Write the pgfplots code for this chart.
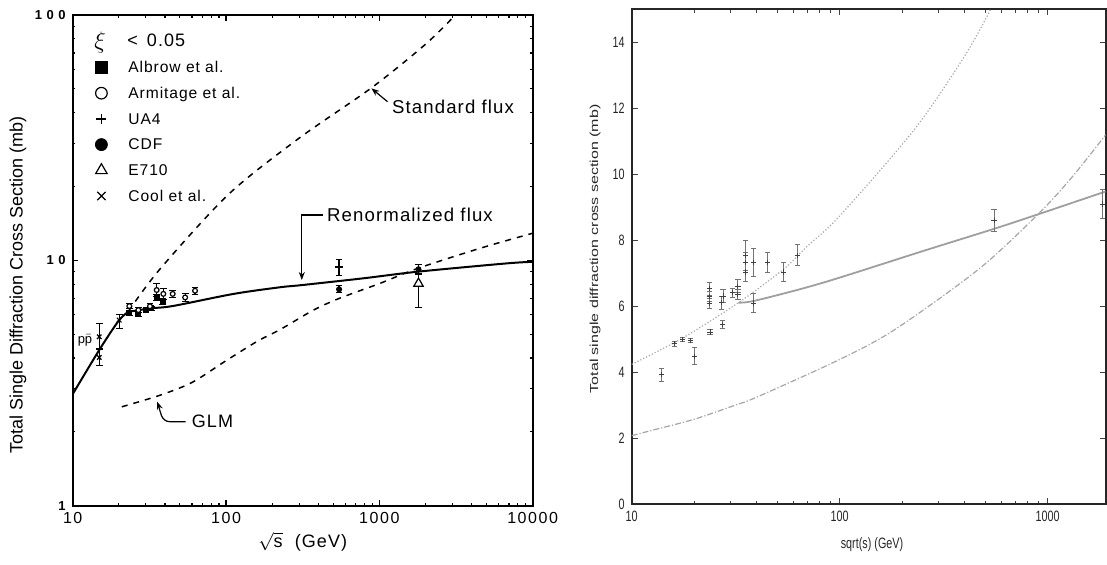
\documentclass[border=0pt]{standalone}
\usepackage{fontspec}
\setmainfont{Liberation Sans}
\newfontfamily\lsp[LetterSpace=6]{Liberation Sans}
\newfontfamily\tsp[LetterSpace=10]{Liberation Sans}
\newfontfamily\bsp[LetterSpace=35]{Liberation Sans}
\newfontfamily\nar[FakeStretch=0.72]{Liberation Sans}
\usepackage{graphicx}
\usepackage{pgfplots}
\pgfplotsset{compat=1.18}
\usepackage{pgfplotstable}
\usetikzlibrary{arrows.meta}

% left panel data
\pgfplotstableread{
x y e
23.4 6.08 0.12
26.8 6.03 0.12
30.1 6.31 0.12
32.5 6.38 0.12
35.3 7.05 0.2
38.6 6.80 0.2
}\albrow
\pgfplotstableread{
x y e
23.4 6.51 0.15
26.8 6.27 0.15
31.9 6.50 0.15
35.3 7.57 0.45
39.0 7.30 0.40
44.9 7.30 0.25
54.1 7.06 0.25
62.8 7.52 0.25
}\armitage
\pgfplotstableread{
x y e
546 9.40 0.70
}\uafour
\pgfplotstableread{
x y e
546 7.62 0.25
1800 9.20 0.45
}\cdf
\pgfplotstableread{
x y ep em
1800 8.05 0.80 1.64
}\esevten
\pgfplotstableread{
x y ep em
14.9 4.88 0.65 0.50
14.9 4.02 0.30 0.28
20.1 5.71 0.32 0.43
}\cool
% curves, left panel
\pgfplotstableread{
x y
10 2.85
15.1 4.37
20.1 5.71
23.1 6.17
}\renlow
\pgfplotstableread{
x y
23.1 6.17
31.9 6.37
45.3 6.52
112 7.30
225 7.77
312 7.93
787 8.45
1778 8.99
6770 9.72
10000 9.86
}\renhigh
\pgfplotstableread{
x y
23.1 6.2
37 9.2
104 18.6
300 31.5
889 50.5
2000 76
3130 100
}\stdflux
\pgfplotstableread{
x y
20.9 2.53
37.1 2.82
60 3.18
100 3.90
160 4.68
225 5.22
372 6.27
548 7.00
1010 8.06
1778 9.27
4540 11.2
10000 12.9
}\glm
% right panel data
\pgfplotstableread{
x y e
13.9 3.93 0.20
16.1 4.87 0.08
17.6 4.99 0.07
19.1 4.97 0.07
20.1 4.49 0.26
23.6 6.53 0.20
23.6 6.29 0.15
23.6 6.09 0.15
23.8 5.22 0.07
27.1 6.11 0.20
27.5 6.31 0.20
27.3 5.45 0.12
30.5 6.41 0.14
32.4 6.61 0.20
32.4 6.36 0.15
35.3 7.55 0.45
35.3 7.33 0.30
35.3 7.04 0.30
38.5 7.33 0.42
38.5 6.10 0.30
45.1 7.33 0.29
53.9 7.04 0.30
62.5 7.55 0.32
552 8.59 0.33
1837 9.10 0.43
}\rdata
\pgfplotstableread{
x y
10 4.24
17.7 5.05
32.6 6.11
53.6 7.12
69.3 7.80
100 8.74
230 11.38
400 13.6
532 15.0
}\rcurvea
\pgfplotstableread{
x y
32.6 6.11
38.5 6.16
64.6 6.52
100 6.87
250 7.67
547 8.34
901 8.79
1900 9.48
}\rcurveb
\pgfplotstableread{
x y
10 2.08
12.3 2.23
19.8 2.57
31.3 3.00
40 3.25
100 4.39
184.5 5.30
471 7.15
918 8.85
1327 9.96
1900 11.2
}\rcurvec

\begin{document}
\begin{tikzpicture}
\path[use as bounding box] (0,0) rectangle (553.5pt,282pt);

\begin{axis}[
  at={(36.35pt,29.15pt)}, anchor=south west,
  scale only axis, width=230pt, height=245.35pt,
  xmode=log, ymode=log,
  xmin=10, xmax=10000, ymin=1, ymax=100,
  axis line style={line width=0.9pt},
  tick style={line width=0.6pt, black},
  major tick length=2.8pt, minor tick length=1.4pt,
  xtick={10,100,1000,10000}, xticklabels={10,100,1000,10000},
  ytick={1,10,100}, yticklabels={1,10,100},
  x tick label style={font=\tsp\fontsize{8}{9}\selectfont},
  y tick label style={font=\bsp\bfseries\fontsize{6.5}{7}\selectfont},
  xlabel={$\sqrt{\mbox{s}}$ \ (GeV)},
  xlabel style={font=\lsp\fontsize{9}{11}\selectfont, at={(axis description cs:0.5,-0.074)}, anchor=center},
  ylabel={Total Single Diffraction Cross Section (mb)},
  ylabel style={font=\fontsize{9}{11}\selectfont, at={(axis description cs:-0.119,0.45)}, anchor=center},
  legend style={draw=none, fill=none, at={(axis description cs:0.0485,0.92)}, anchor=north west,
    inner sep=0pt, row sep=0pt, font=\lsp\fontsize{7.8}{9}\selectfont,
    nodes={inner sep=0pt, text height=9pt, text depth=3.85pt},
    /tikz/every odd column/.append style={column sep=10.5pt}},
  legend cell align=left,
  error bars/error bar style={line width=0.6pt, black},
  error bars/error mark options={rotate=90, line width=0.6pt, black, mark size=1.7pt},
]
% theory curves
\addplot[black, line width=1pt, smooth, forget plot] table {\renlow};
\addplot[black, line width=1pt, smooth, forget plot] table {\renhigh};
\addplot[black, line width=0.75pt, dashed, smooth, forget plot] table {\stdflux};
\addplot[black, line width=0.75pt, dashed, smooth, forget plot] table {\glm};
% data
\addplot[black, only marks, mark=square*, mark size=1.25pt, forget plot,
  error bars/.cd, y dir=both, y explicit] table[x=x, y=y, y error=e] {\albrow};
\addplot[black, only marks, mark=*, mark size=1.2pt, mark options={fill=white, line width=0.6pt}, forget plot,
  error bars/.cd, y dir=both, y explicit] table[x=x, y=y, y error=e] {\armitage};
\addplot[black, only marks, mark=+, mark size=1.8pt, mark options={line width=0.6pt}, forget plot,
  error bars/.cd, y dir=both, y explicit] table[x=x, y=y, y error=e] {\uafour};
\addplot[black, only marks, mark=*, mark size=1.3pt, forget plot,
  error bars/.cd, y dir=both, y explicit] table[x=x, y=y, y error=e] {\cdf};
\addplot[black, only marks, mark=triangle*, mark size=2.7pt, mark options={fill=white, line width=0.6pt}, forget plot,
  error bars/.cd, y dir=both, y explicit] table[x=x, y=y, y error plus=ep, y error minus=em] {\esevten};
\addplot[black, only marks, mark=x, mark size=1.6pt, mark options={line width=0.6pt}, forget plot,
  error bars/.cd, y dir=both, y explicit] table[x=x, y=y, y error plus=ep, y error minus=em] {\cool};
% legend
\addlegendimage{black, only marks, mark=square*, mark size=2.9pt}
\addlegendentry{Albrow et al.}
\addlegendimage{black, only marks, mark=o, mark size=2.9pt, mark options={line width=0.6pt}}
\addlegendentry{Armitage et al.}
\addlegendimage{black, only marks, mark=+, mark size=2.5pt, mark options={line width=0.6pt}}
\addlegendentry{UA4}
\addlegendimage{black, only marks, mark=*, mark size=3pt}
\addlegendentry{CDF}
\addlegendimage{black, only marks, mark=triangle, mark size=3.3pt, mark options={line width=0.6pt}}
\addlegendentry{E710}
\addlegendimage{black, only marks, mark=x, mark size=2.9pt, mark options={line width=0.6pt}}
\addlegendentry{Cool et al.}
\end{axis}

\begin{axis}[
  at={(315.85pt,29.85pt)}, anchor=south west,
  scale only axis, width=237pt, height=247.5pt,
  xmode=log, xmin=10, xmax=1900, ymin=0, ymax=15,
  axis line style={line width=1pt, black!85},
  tick style={line width=0.5pt, black!75},
  major tick length=3pt, minor tick length=1.6pt,
  xtick={10,100,1000}, xticklabels={10,100,1000},
  ytick={0,2,4,6,8,10,12,14}, yticklabels={0,2,4,6,8,10,12,14},
  tick label style={font=\nar\fontsize{7.5}{9}\selectfont, black!85},
  xlabel={sqrt(s) (GeV)},
  xlabel style={font=\nar\fontsize{7.5}{9}\selectfont, black!85, at={(axis description cs:0.507,-0.082)}, anchor=center},
  ylabel={\scalebox{1}[0.72]{Total single diffraction cross section (mb)}},
  ylabel style={font=\fontsize{8}{9.6}\selectfont, black!85, at={(axis description cs:-0.0774,0.516)}, anchor=center},
  error bars/error bar style={line width=0.45pt, black!55},
  error bars/error mark options={rotate=90, line width=0.45pt, black!55, mark size=1.3pt},
]
\addplot[gray!70, line width=0.6pt, densely dotted, smooth] table {\rcurvea};
\addplot[gray!75, line width=0.9pt, smooth] table {\rcurveb};
\addplot[gray!70, line width=0.6pt, dash pattern=on 3pt off 1pt on 0.6pt off 1pt, smooth] table {\rcurvec};
\addplot[black!75, only marks, mark=+, mark size=1.3pt, mark options={line width=0.45pt},
  error bars/.cd, y dir=both, y explicit] table[x=x, y=y, y error=e] {\rdata};
\end{axis}

% annotations of the left panel, in pixel units of the reference
\begin{scope}[x=0.5pt, y=-0.5pt, shift={(0pt,282pt)}]
\node[font=\fontsize{12}{14}\selectfont] at (100,42) {$\xi$};
\node[font=\lsp\fontsize{9}{11}\selectfont, anchor=west, inner sep=0pt] at (127,40) {<\, 0.05};
\node[font=\lsp\fontsize{9.3}{11}\selectfont] at (453,107) {Standard flux};
\draw[line width=0.6pt, -{Stealth[length=4pt, width=3pt]}] (387.5,101.7) -- (371.4,88.3);
\node[font=\lsp\fontsize{9.3}{11}\selectfont] at (410,215) {Renormalized flux};
\draw[line width=0.6pt, -{Stealth[length=4pt, width=3pt]}] (323,215) -- (301.8,215) -- (301.8,280);
\node[font=\lsp\fontsize{9}{11}\selectfont] at (212.5,421.7) {GLM};
\draw[line width=0.6pt, -{Stealth[length=4pt, width=3pt]}] (185.7,421.7) -- (170,421.7) to[out=180, in=-70] (157.1,401.7);
\node[font=\fontsize{6.5}{8}\selectfont, inner sep=0pt] at (85,340) {p$\bar{\mbox{p}}$};
\end{scope}
\end{tikzpicture}
\end{document}
